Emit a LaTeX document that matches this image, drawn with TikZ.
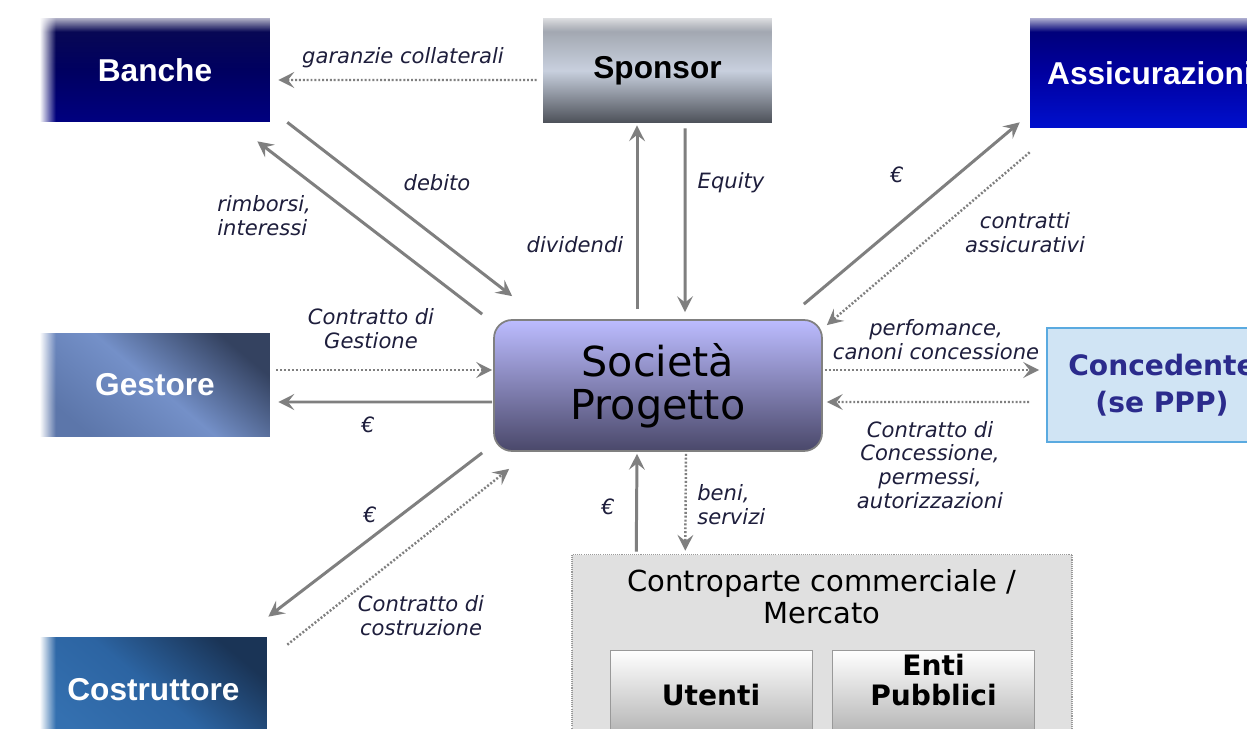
\documentclass[tikz,border=0pt]{standalone}
\usepackage{fontspec}
\setmainfont{DejaVu Sans}
\newfontfamily\arialfont{Liberation Sans}
\usetikzlibrary{arrows.meta,positioning,fadings}

\definecolor{linkgray}{HTML}{7F7F7F}
\definecolor{lbltext}{HTML}{1E1E3C}
\definecolor{concfill}{HTML}{D0E4F4}
\definecolor{concdraw}{HTML}{5AAAE0}
\definecolor{conctext}{HTML}{2B2B8C}

\tikzset{
    box/.style={rectangle, inner sep=0pt, align=center,
                minimum width=4.6cm, minimum height=2.08cm,
                font=\arialfont\bfseries\fontsize{18}{20}\selectfont},
    btnbox/.style={rectangle, draw=gray!80, inner sep=0pt, align=center,
                minimum width=4.04cm, minimum height=1.8cm,
                top color=white, bottom color=gray!95!black!60,
                font=\bfseries\fontsize{16}{17.5}\selectfont},
    link/.style={draw=linkgray, line width=1.7pt,
                -{Stealth[length=9pt,width=9pt,inset=3.5pt]}},
    dlink/.style={link, line width=1.4pt, dash pattern=on 1.1pt off 1.1pt},
    lbl/.style={font=\itshape\fontsize{12}{13.6}\selectfont, text=lbltext,
                align=center, inner sep=0pt},
}

\begin{document}
\begin{tikzpicture}[x=0.02cm, y=-0.02cm]
    \useasboundingbox (0,0) rectangle (1247,729);
    \clip (0,0) rectangle (1247,729);
    \fill[white] (0,0) rectangle (1247,729);

    % Boxes -----------------------------------------------------------
    \node[box, text=white, top color={rgb,255:red,10;green,10;blue,80},
          bottom color={rgb,255:red,0;green,0;blue,128},
          middle color={rgb,255:red,0;green,0;blue,96}] (banche) at (155,70) {Banche};
    \node[box, text=black, minimum width=4.58cm, minimum height=2.1cm,
          top color={rgb,255:red,150;green,154;blue,162},
          bottom color={rgb,255:red,76;green,80;blue,88},
          middle color={rgb,255:red,200;green,208;blue,222}] (sponsor) at (657.5,70.5) {Sponsor};
    \node[box, text=white, minimum width=4.8cm, minimum height=2.2cm,
          top color={rgb,255:red,0;green,0;blue,110},
          bottom color={rgb,255:red,0;green,16;blue,205},
          middle color={rgb,255:red,0;green,0;blue,160}] (assic) at (1150,73) {Assicurazioni};
    \node[box, text=white,
          top color={rgb,255:red,52;green,66;blue,96},
          bottom color={rgb,255:red,92;green,118;blue,170},
          middle color={rgb,255:red,116;green,144;blue,200}, shading angle=-40] (gestore) at (155,385) {Gestore};
    \node[box, fill=concfill, draw=concdraw, line width=1pt, text=conctext,
          minimum height=2.28cm, font=\bfseries\fontsize{16}{21}\selectfont]
          (conced) at (1162,385) {Concedente\\(se PPP)};
    \node[box, text=white, minimum width=4.54cm, minimum height=2.12cm,
          top color={rgb,255:red,26;green,52;blue,86},
          bottom color={rgb,255:red,52;green,112;blue,176},
          middle color={rgb,255:red,44;green,100;blue,162}, shading angle=-40] (costr) at (153.5,690) {Costruttore};

    % glow on the box edges
    \foreach \b in {banche,gestore,costr}
        \fill[white, path fading=east] (\b.north west) rectangle ([shift={(16,0)}]\b.south west);
    \foreach \b in {banche,sponsor,assic}
        \fill[white, opacity=0.7, path fading=south] (\b.north west) rectangle ([shift={(0,14)}]\b.north east);

    % Societa Progetto ------------------------------------------------
    \node[rectangle, rounded corners=0.36cm, draw=gray, line width=1pt,
          minimum width=6.56cm, minimum height=2.62cm, align=center,
          top color={rgb,255:red,188;green,188;blue,255},
          bottom color={rgb,255:red,74;green,72;blue,106},
          font=\fontsize{23.5}{24.5}\selectfont] (sp) at (658,385.5) {Società\\Progetto};

    % Controparte / Mercato -------------------------------------------
    \node[rectangle, fill=black!12, draw=gray!80, line width=0.9pt,
          dash pattern=on 0.6pt off 0.6pt,
          minimum width=10cm, minimum height=3.7cm] (mercato) at (822,647) {};
    \node[align=center, inner sep=0pt, font=\fontsize{16.5}{18}\selectfont]
          (mercatotxt) at (822,597) {Controparte commerciale /\\Mercato};
    \node[btnbox] (utenti) at (711,695) {Utenti};
    \node[btnbox] (enti) at (933.5,695) {};
    \node[align=center, inner sep=0pt, font=\bfseries\fontsize{16}{17.5}\selectfont]
          (entitxt) at (933.5,680) {Enti\\Pubblici};

    % Connectors ------------------------------------------------------
    \draw[dlink] ([shift={(-6,9.5)}]sponsor.west) -- ([shift={(8,10)}]banche.east);
    \draw[link]  ([shift={(17,0)}]banche.south east) -- ([shift={(19,-23)}]sp.north west);
    \draw[link]  ([shift={(-11,-5)}]sp.north west) -- ([shift={(-13,19)}]banche.south east);
    \draw[link]  ([shift={(-21,-10)}]sp.north) -- ([shift={(-20.5,2)}]sponsor.south);
    \draw[link]  ([shift={(27.5,5)}]sponsor.south) -- ([shift={(27,-7)}]sp.north);
    \draw[link]  ([shift={(-19,-15)}]sp.north east) -- ([shift={(-10,-6)}]assic.south west);
    \draw[dlink] ([shift={(0,24)}]assic.south west) -- ([shift={(4,6)}]sp.north east);
    \draw[dlink] ([shift={(6,-15)}]gestore.east) -- ([shift={(-1,-15.5)}]sp.west);
    \draw[link]  ([shift={(-1,16.5)}]sp.west) -- ([shift={(8,17)}]gestore.east);
    \draw[dlink] ([shift={(2,-15.5)}]sp.east) -- ([shift={(-7,-15)}]conced.west);
    \draw[dlink] ([shift={(-17,17)}]conced.west) -- ([shift={(4,16.5)}]sp.east);
    \draw[link]  ([shift={(-11,1)}]sp.south west) -- ([shift={(1,-20)}]costr.north east);
    \draw[dlink] ([shift={(20,8)}]costr.north east) -- ([shift={(16,17)}]sp.south west);
    \draw[link]  ([shift={(65,-2)}]mercato.north west) -- ([shift={(-21,2)}]sp.south);
    \draw[dlink] ([shift={(28,2)}]sp.south) -- ([shift={(114,-3)}]mercato.north west);

    % Labels ----------------------------------------------------------
    \node[lbl] (lgar)   at (403,58)  {garanzie collaterali};
    \node[lbl] (ldeb)   at (437,183) {debito};
    \node[lbl, align=left, anchor=west] (lrimb) at (217,216) {rimborsi,\\interessi};
    \node[lbl] (ldiv)   at (575,245) {dividendi};
    \node[lbl] (lequ)   at (731,183) {Equity};
    \node[lbl] (leass)  at (897,175) {€};
    \node[lbl] (lcass)  at (1025,233) {contratti\\assicurativi};
    \node[lbl] (lgest)  at (371,329) {Contratto di\\Gestione};
    \node[lbl] (legest) at (368,425) {€};
    \node[lbl] (lperf)  at (936,340) {perfomance,\\canoni concessione};
    \node[lbl] (lconc)  at (930,465) {Contratto di\\Concessione,\\permessi,\\autorizzazioni};
    \node[lbl] (lecost) at (370,515) {€};
    \node[lbl] (lcost)  at (421,616) {Contratto di\\costruzione};
    \node[lbl] (lemerc) at (608,507) {€};
    \node[lbl, align=left, anchor=west] (lbeni) at (697,505) {beni,\\servizi};
\end{tikzpicture}
\end{document}
